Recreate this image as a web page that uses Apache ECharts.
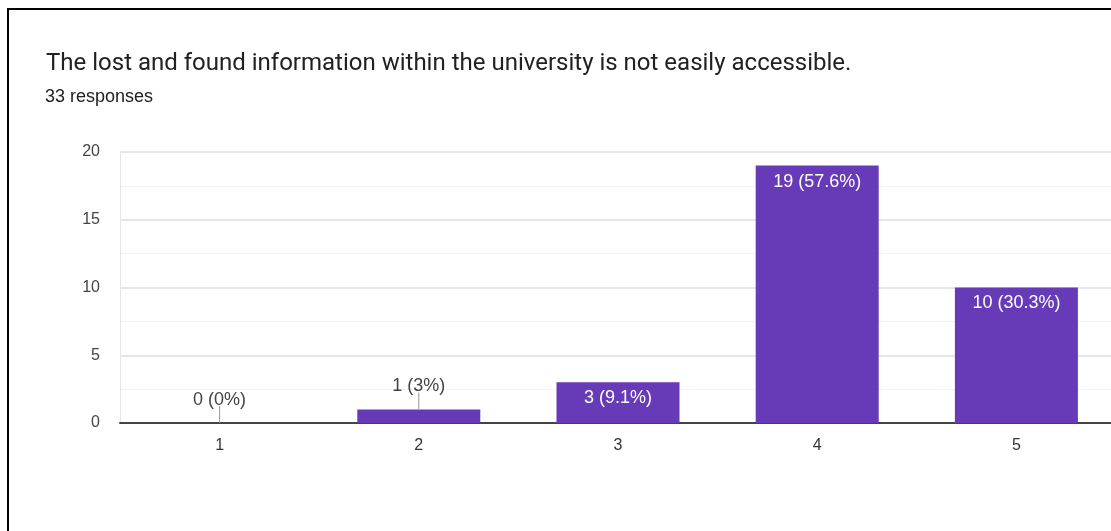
<!DOCTYPE html>
<html>
<head>
<meta charset="utf-8">
<script src="https://cdn.jsdelivr.net/npm/echarts@6/dist/echarts.min.js"></script>
<style>
  html, body { margin: 0; padding: 0; background: #fff; overflow: hidden; }
  #chart { width: 1130px; height: 531px; }
</style>
</head>
<body>
<div id="chart"></div>
<script>
// Survey answer scale and number of responses for each answer
const categories = ['1', '2', '3', '4', '5'];
const counts = [0, 1, 3, 19, 10];
const totalResponses = 33;
const yTicks = [0, 5, 10, 15, 20];

const questionText = 'The lost and found information within the university is not easily accessible.';
const PURPLE = '#673ab7';
const SMALL_LIMIT = 2;

function pctLabel(v) {
  const p = Math.round(v / totalResponses * 1000) / 10;
  return v + ' (' + p + '%)';
}

// Small bars get their label above with a leader line; tall bars carry it inside.
const barData = counts.map(function (v) {
  const small = v < SMALL_LIMIT;
  return {
    value: v,
    label: small
      ? { position: 'top', distance: 14, color: '#444', formatter: pctLabel(v) }
      : { position: 'insideTop', distance: 7, color: '#fff', formatter: pctLabel(v) }
  };
});

// Leader lines for the labels sitting above small bars
const leaderData = [];
counts.forEach(function (v, i) {
  if (v < SMALL_LIMIT) leaderData.push([i, v]);
});

const chart = echarts.init(document.getElementById('chart'), null, { renderer: 'canvas' });
chart.setOption({
  animation: false,
  backgroundColor: '#fff',
  textStyle: { fontFamily: 'Arial, sans-serif' },
  graphic: [{
    type: 'rect',
    shape: { x: 8, y: 9, width: 3000, height: 3000 },
    style: { fill: 'none', stroke: '#000', lineWidth: 2 },
    silent: true
  }],
  title: [
    { text: questionText, left: 41, top: 47,
      textStyle: { fontSize: 24, fontWeight: 'normal', color: '#202124', fontFamily: 'Roboto, Arial, sans-serif' } },
    { text: totalResponses + ' responses', left: 40, top: 83,
      textStyle: { fontSize: 18, fontWeight: 'normal', color: '#202124', fontFamily: 'Arial, sans-serif' } }
  ],
  grid: { left: 120, top: 152, width: 996, bottom: 108, containLabel: false },
  xAxis: {
    type: 'category',
    data: categories,
    axisLine: { show: true, lineStyle: { color: '#444', width: 2 } },
    axisTick: { show: false },
    axisLabel: { color: '#333', fontSize: 16, margin: 15, fontFamily: 'Arial, sans-serif' },
    splitLine: { show: false }
  },
  yAxis: {
    type: 'value',
    min: yTicks[0],
    max: yTicks[yTicks.length - 1],
    interval: yTicks[1] - yTicks[0],
    axisLine: { show: true, lineStyle: { color: '#e6e6e6', width: 1 } },
    axisTick: { show: false },
    axisLabel: { color: '#444', fontSize: 16, margin: 20, fontFamily: 'Arial, sans-serif' },
    splitLine: { show: true, lineStyle: { color: '#e6e6e6', width: 2 } },
    minorTick: { show: false, splitNumber: 2 },
    minorSplitLine: { show: true, lineStyle: { color: '#f2f2f2', width: 1 } }
  },
  series: [{
    type: 'bar',
    data: barData,
    barWidth: 123,
    itemStyle: { color: PURPLE },
    label: { show: true, fontSize: 18, fontFamily: 'Arial, sans-serif' },
    z: 2
  }, {
    type: 'custom',
    data: leaderData,
    silent: true,
    z: 3,
    renderItem: function (params, api) {
      const p = api.coord([api.value(0), api.value(1)]);
      return {
        type: 'line',
        shape: { x1: p[0], y1: p[1], x2: p[0], y2: p[1] - 17 },
        style: { stroke: '#999', lineWidth: 1 }
      };
    }
  }]
});
</script>
</body>
</html>
